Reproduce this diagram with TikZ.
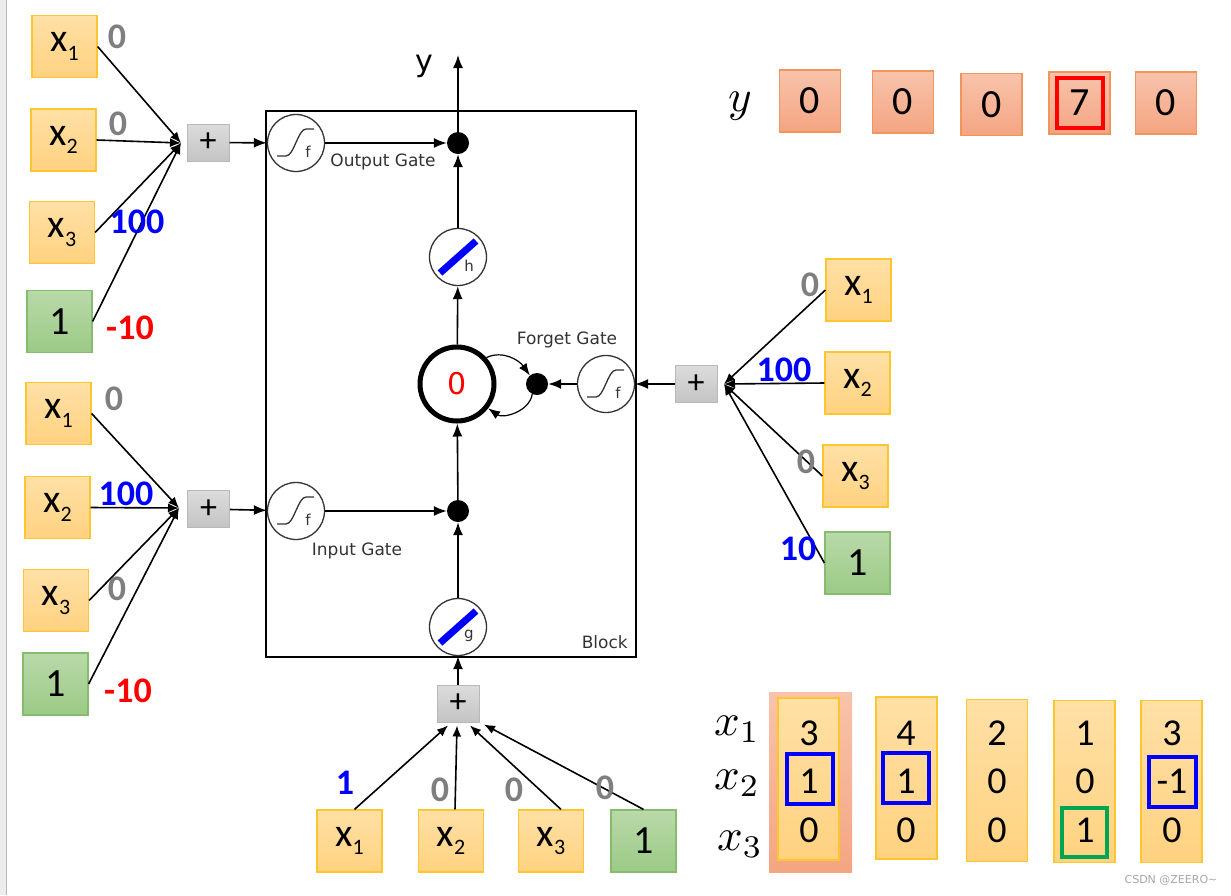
\documentclass[tikz,border=0pt]{standalone}
\usepackage{fontspec}
\setmainfont{Carlito}
\newfontfamily\dejavu{DejaVu Sans}
\usetikzlibrary{arrows.meta}
\definecolor{ytop}{HTML}{FFE0A6}
\definecolor{ybot}{HTML}{FFD280}
\definecolor{ybrd}{HTML}{FFC52E}
\definecolor{gtop}{HTML}{B9D9A9}
\definecolor{gbot}{HTML}{9CCA86}
\definecolor{gbrd}{HTML}{86BC6E}
\definecolor{stop}{HTML}{F8C3AB}
\definecolor{sbot}{HTML}{F4A582}
\definecolor{sbrd}{HTML}{F0955C}
\definecolor{ptop}{HTML}{DCDCDC}
\definecolor{pbot}{HTML}{C4C4C4}
\definecolor{pbrd}{HTML}{B8B8B8}
\definecolor{wgrey}{HTML}{7F7F7F}
\definecolor{wblue}{HTML}{0000FF}
\definecolor{wred}{HTML}{FF0000}
\definecolor{wgreen}{HTML}{00A550}
\definecolor{gcol}{HTML}{333333}
\newcommand\xsub[1]{x\raisebox{-0.22em}{\fontsize{22}{22}\selectfont #1}}
\newcommand\mbig[1]{\scalebox{4.5}{$#1$}}
\newcommand\sigcurve[1]{%
  \draw[line width=1.3, gcol] ([shift={(-19,-13)}]#1.center) -- ([shift={(-10,-13)}]#1.center)
    .. controls ([shift={(-2,-13)}]#1.center) and ([shift={(2,14)}]#1.center) .. ([shift={(10,14)}]#1.center)
    -- ([shift={(18,14)}]#1.center);
  \node[font=\dejavu\fontsize{15}{15}\selectfont, text=gcol, inner sep=0] at ([shift={(12,-9)}]#1.center) {f};}
\newcommand\barcurve[2]{%
  \draw[line width=7, wblue] ([shift={(-18,-16)}]#1.center) -- ([shift={(18,16)}]#1.center);
  \node[font=\dejavu\fontsize{15}{15}\selectfont, text=gcol, inner sep=0] at ([shift={(11,-9)}]#1.center) {#2};}
\begin{document}
\begin{tikzpicture}[x=1pt,y=1pt,
  inbox/.style={rectangle, inner sep=0, minimum width=65, minimum height=62, line width=1.2, font=\fontsize{40}{40}\selectfont},
  ybox/.style={inbox, draw=ybrd, top color=ytop, bottom color=ybot},
  gbox/.style={inbox, draw=gbrd, top color=gtop, bottom color=gbot},
  sbox/.style={inbox, minimum width=61, draw=sbrd, top color=stop, bottom color=sbot},
  colbox/.style={rectangle, inner sep=0, minimum width=61, minimum height=162, line width=1.2, draw=ybrd, top color=ytop, bottom color=ybot},
  plusbox/.style={rectangle, inner sep=0, minimum width=42, minimum height=37, draw=pbrd, line width=1, top color=ptop, bottom color=pbot, font=\fontsize{34}{34}\selectfont},
  wt/.style={font=\bfseries\fontsize{36}{36}\selectfont, inner sep=0},
  conn/.style={line width=1.6, -{Latex[length=11,width=9]}},
  arr/.style={line width=1.6, -{Latex[length=13,width=10]}},
  thin/.style={line width=1.2, -{Latex[length=12,width=9]}},
  unit/.style={circle, draw=gcol, line width=1.3, minimum size=57, inner sep=0},
  mdot/.style={circle, fill=black, minimum size=22, inner sep=0},
  lbl/.style={font=\dejavu\fontsize{17}{17}\selectfont, text=gcol, inner sep=0},
  digit/.style={font=\fontsize{38}{38}\selectfont, inner sep=0},
  frame/.style={rectangle, draw, line width=4.5, inner sep=0},
  mlab/.style={inner sep=0}
]
\useasboundingbox (0,0) rectangle (1231,-895);
\fill[gray!15] (0,0) rectangle (6,-895);
\draw[gray!55, line width=1] (6.5,0) -- (6.5,-895);

% ---------- block ----------
\node[draw, line width=2, minimum width=370, minimum height=546, inner sep=0] (block) at (451,-384) {};
\node[lbl, anchor=east] (blocklbl) at (628,-642) {Block};

\node[unit] (sO) at (296,-143) {}; \sigcurve{sO}
\node[unit] (sI) at (296,-511) {}; \sigcurve{sI}
\node[unit] (sF) at (606,-384) {}; \sigcurve{sF}
\node[unit] (hC) at (458,-257) {}; \barcurve{hC}{h}
\node[unit] (gC) at (458,-627) {}; \barcurve{gC}{g}
\node[mdot] (oDot) at (458,-143) {};
\node[mdot] (iDot) at (458,-511) {};
\node[mdot] (fDot) at (537,-384) {};
\node[circle, draw, line width=5, minimum size=74, inner sep=0, text=wred, font=\dejavu\fontsize{30}{30}\selectfont] (cell) at (457,-384) {0};

\node[lbl] (olbl) at (383,-162) {Output Gate};
\node[lbl] (ilbl) at (357,-551) {Input Gate};
\node[lbl] (flbl) at (567,-340) {Forget Gate};

\draw[arr] (sO) -- (oDot);
\draw[arr] (sI) -- (iDot);
\draw[arr] (sF) -- (fDot);
\draw[arr] (hC) -- (oDot);
\draw[arr] (cell) -- (hC);
\draw[arr] (iDot) -- (cell);
\draw[arr] (gC) -- (iDot);
\draw[thin] (cell.42) to[out=25,in=125] (fDot.130);
\draw[thin] (fDot.245) to[out=-100,in=-35] (cell.-38);

\coordinate (yT) at (458,-55);
\draw[arr] (oDot) -- (yT);
\node[font=\dejavu\fontsize{30}{30}\selectfont, inner sep=0] (ylbl) at (424,-66) {y};

% ---------- output gate inputs ----------
\node[ybox] (o1) at (64.5,-46.5) {\xsub1};
\node[ybox] (o2) at (63.5,-140) {\xsub2};
\node[ybox] (o3) at (62,-232.5) {\xsub3};
\node[gbox] (o4) at (59.5,-321.5) {1};
\coordinate (cO) at (181,-143);
\node[plusbox] (pO) at (208,-142.5) {+};
\draw[conn] (o1.east) -- (cO);
\draw[conn] (o2.east) -- (cO);
\draw[conn] (o3.east) -- (cO);
\draw[conn] (o4.east) -- (cO);
\draw[arr] (pO) -- (sO);
\node[wt, text=wgrey] (wo1) at (117,-37) {0};
\node[wt, text=wgrey] (wo2) at (118,-124) {0};
\node[wt, text=wblue] (wo3) at (137,-222) {100};
\node[wt, text=wred] (wo4) at (130,-328) {-10};

% ---------- input gate inputs ----------
\node[ybox] (i1) at (58.5,-413.5) {\xsub1};
\node[ybox] (i2) at (57.5,-507.5) {\xsub2};
\node[ybox] (i3) at (56,-600.5) {\xsub3};
\node[gbox] (i4) at (55.5,-684) {1};
\coordinate (cI) at (179,-508);
\node[plusbox] (pI) at (208.5,-509) {+};
\draw[conn] (i1.east) -- (cI);
\draw[conn] (i2.east) -- (cI);
\draw[conn] (i3.east) -- (cI);
\draw[conn] (i4.east) -- (cI);
\draw[arr] (pI) -- (sI);
\node[wt, text=wgrey] (wi1) at (114,-399) {0};
\node[wt, text=wblue] (wi2) at (126,-494) {100};
\node[wt, text=wgrey] (wi3) at (117,-589) {0};
\node[wt, text=wred] (wi4) at (128,-691) {-10};

% ---------- forget gate inputs ----------
\node[ybox] (f1) at (858.5,-290) {\xsub1};
\node[ybox] (f2) at (857.5,-383) {\xsub2};
\node[ybox] (f3) at (855.5,-476) {\xsub3};
\node[gbox] (f4) at (857.5,-563) {1};
\coordinate (cF) at (724,-384);
\node[plusbox] (pF) at (696,-384) {+};
\draw[conn] (f1.west) -- (cF);
\draw[conn] (f2.west) -- (cF);
\draw[conn] (f3.west) -- (cF);
\draw[conn] (f4.west) -- (cF);
\draw[arr] (pF) -- (sF);
\node[wt, text=wgrey] (wf1) at (810,-285) {0};
\node[wt, text=wblue] (wf2) at (784,-370) {100};
\node[wt, text=wgrey] (wf3) at (806,-462) {0};
\node[wt, text=wblue] (wf4) at (798,-549) {10};

% ---------- cell input ----------
\node[ybox] (b1) at (349.5,-841) {\xsub1};
\node[ybox] (b2) at (451,-841) {\xsub2};
\node[ybox] (b3) at (551,-841) {\xsub3};
\node[gbox] (b4) at (643.5,-841) {1};
\node[plusbox] (pB) at (458,-703.5) {+};
\draw[conn] ([xshift=5]b1.north) -- ([shift={(-10,-3)}]pB.south);
\draw[conn] ([xshift=4]b2.north) -- ([shift={(-1,-3)}]pB.south);
\draw[conn] ([xshift=10]b3.north) -- ([shift={(12,-3)}]pB.south);
\draw[conn] (b4.north) -- ([shift={(26,-2)}]pB.south);
\draw[arr] (pB) -- (gC);
\node[wt, text=wblue] (wb1) at (345,-783) {1};
\node[wt, text=wgrey] (wb2) at (440,-790) {0};
\node[wt, text=wgrey] (wb3) at (514,-790) {0};
\node[wt, text=wgrey] (wb4) at (605,-788) {0};

% ---------- y row ----------
\node[inner sep=0] (yrow) at (740,-106) {\mbig{y}};
\node[sbox] (r1) at (810,-101) {0};
\node[sbox] (r2) at (903,-102) {0};
\node[sbox] (r3) at (991.5,-104.5) {0};
\node[sbox] (r4) at (1079.5,-103) {7};
\node[sbox] (r5) at (1166,-103) {0};
\node[frame, draw=wred, minimum width=46, minimum height=50, line width=4] (rf) at (1080,-103) {};

% ---------- x table ----------
\node[rectangle, inner sep=0, minimum width=83, minimum height=180, top color=stop, bottom color=sbot] (bg) at (810.5,-782) {};
\node[colbox] (c1) at (808.5,-779) {};
\node[colbox] (c2) at (906.5,-778) {};
\node[colbox] (c3) at (997,-780.5) {};
\node[colbox] (c4) at (1084.5,-781.5) {};
\node[colbox] (c5) at (1171.5,-781.5) {};
\node[mlab] (lx1) at (737,-729) {\mbig{x_1}};
\node[mlab] (lx2) at (737,-783) {\mbig{x_2}};
\node[mlab] (lx3) at (740,-844) {\mbig{x_3}};
\foreach \c/\x/\a/\b/\d in {1/809/3/1/0, 2/906/4/1/0, 3/997/2/0/0, 4/1085/1/0/1, 5/1172/3/-1/0}{
  \node[digit] (d\c a) at (\x,-733) {\a};
  \node[digit] (d\c b) at (\x,-781) {\b};
  \node[digit] (d\c c) at (\x,-830) {\d};
}
\node[frame, draw=wblue, minimum width=46, minimum height=50] (fr1) at (810,-779) {};
\node[frame, draw=wblue, minimum width=46, minimum height=50] (fr2) at (906,-778) {};
\node[frame, draw=wblue, minimum width=47, minimum height=50] (fr5) at (1172.5,-782) {};
\node[frame, draw=wgreen, minimum width=45, minimum height=49] (fr4) at (1084.5,-832.5) {};

\node[font=\dejavu\fontsize{11}{11}\selectfont, text=gray!70, inner sep=0] (wm) at (1171,-880) {CSDN @ZEERO\textasciitilde};
\end{tikzpicture}
\end{document}
